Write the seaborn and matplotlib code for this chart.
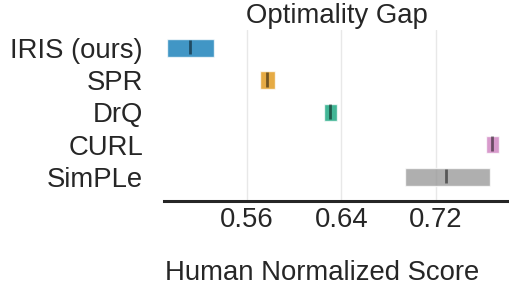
import matplotlib
matplotlib.use("Agg")
import matplotlib.pyplot as plt
import seaborn as sns

# data
algorithms = ["IRIS (ours)", "SPR", "DrQ", "CURL", "SimPLe"]
lower = [0.492, 0.571, 0.6252, 0.7624, 0.6935]
upper = [0.532, 0.5837, 0.636, 0.7734, 0.7657]
median = [0.5117, 0.5772, 0.6303, 0.7677, 0.7287]
xticks = [0.56, 0.64, 0.72]

sns.set_style("white")
plt.rcParams['font.family'] = ['Liberation Sans', 'DejaVu Sans']
pal = sns.color_palette("colorblind")
colors = [pal[0], pal[1], pal[2], pal[4], pal[7]]

fig = plt.figure(figsize=(5.09, 2.89), dpi=100)
ax = fig.add_axes([0.322, 0.304, 0.678, 0.592])

fs = 19.8
h = 0.54
for j, alg in enumerate(algorithms):
    ax.barh(y=j, width=upper[j] - lower[j], height=h, left=lower[j],
            color=colors[j], alpha=0.75)
    ax.vlines(x=median[j], ymin=j - 7.5 * h / 16, ymax=j + 6 * h / 16,
              color='k', alpha=0.5, linewidth=2)

ax.set_yticks(range(len(algorithms)))
ax.set_yticklabels(algorithms)
ax.set_ylim(4.75, -0.55)
ax.set_xlim(0.4897, 0.7818)
ax.set_xticks(xticks)
ax.set_xticklabels([f"{t:.2f}" for t in xticks])
ax.grid(True, axis='x', color='#e8e8e8', linewidth=1)
ax.set_axisbelow(True)
for s in ['left', 'right', 'top']:
    ax.spines[s].set_visible(False)
ax.spines['bottom'].set_linewidth(2.2)
ax.spines['bottom'].set_color('#262626')
ax.tick_params(axis='y', length=0, pad=15, labelsize=fs, labelcolor='#262626')
ax.tick_params(axis='x', length=0, pad=4, labelsize=fs, labelcolor='#262626')
ax.set_title("Optimality Gap", fontsize=fs, pad=5, color='#262626')
fig.text(0.633, 0.057, "Human Normalized Score", ha='center', va='center',
         fontsize=fs, color='#262626')

fig.savefig("out.png", dpi=100)
